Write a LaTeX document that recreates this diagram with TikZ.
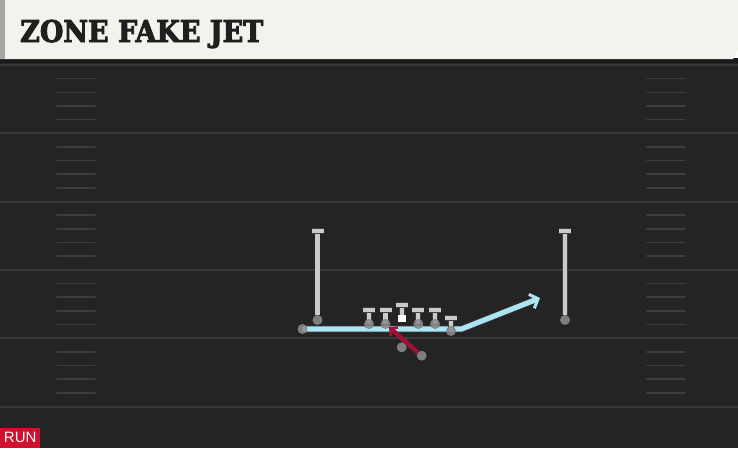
\documentclass[tikz,border=0pt]{standalone}
\usepackage{fontspec}
\newfontfamily\titlefont{DejaVu Serif Condensed}[FakeBold = 3]
\newfontfamily\tagfont{Liberation Sans}
\usetikzlibrary{
    arrows.meta,
    calc
}
\definecolor{field}{HTML}{242424}
\definecolor{yardline}{HTML}{393939}
\definecolor{hashmark}{HTML}{3D3D3D}
\definecolor{banner}{HTML}{F4F2EC}
\definecolor{route}{HTML}{ABE4F2}
\definecolor{runred}{HTML}{9E1232}
\definecolor{tagred}{HTML}{D0102F}
\definecolor{player}{HTML}{8E8E8E}
\definecolor{blocker}{HTML}{CACACA}
\tikzset {
    yard line/.style = {draw = yardline, line width = 2pt},
    hash/.style = {draw = hashmark, line width = 1.6pt, line cap = round},
    man/.style = {circle, fill = player, fill opacity = .85, draw = black!50, line width = .8pt, inner sep = 0pt, minimum size = 9pt},
    center man/.style = {rectangle, fill = white, inner sep = 0pt, minimum width = 8pt, minimum height = 7pt},
    block/.style = {draw = blocker, line width = 4.2pt, preaction = {draw = black!75, line width = 5.8pt}},
    route/.style = {
        draw = route, line width = 5.2pt, line join = round,
        preaction = {draw = black!80, line width = 7pt},
        -{Straight Barb[length = 7pt, width = 15pt, line width = 3pt]}
    },
    run/.style = {
        draw = runred, line width = 4.4pt,
        -{Straight Barb[length = 5pt, width = 11pt, line width = 2.5pt]}
    },
    %
    block tee/.pic = {
        \draw [block, line width = 4.6pt, preaction = {draw = black!75, line width = 6.2pt}] (-6pt, 0) -- (6pt, 0);
    }
}

\begin{document}
\begin{tikzpicture}[x = 1pt, y = -1pt]
    \useasboundingbox (0, 0) rectangle (738, 448);
    % field
    \fill [field] (0, 59) rectangle (738, 448);
    \foreach \y in {65, 133.3, 201.6, 269.9, 338.2, 406.5}
        \draw [yard line] (0, \y) -- (738, \y);
    \foreach \y in {65, 133.3, 201.6, 269.9, 338.2} {
        \foreach \k in {1, 2, 3, 4} {
            \draw [hash] (57, \y + 13.66 * \k) -- (95, \y + 13.66 * \k);
            \draw [hash] (647, \y + 13.66 * \k) -- (685, \y + 13.66 * \k);
        }
    }
    % header
    \fill [black!90] (0, 58) rectangle (738, 63);
    \fill [banner] (0, 0) -- (738, 0) -- (738, 50) -- (733, 59) -- (0, 59) -- cycle;
    \fill [black!35] (0, 0) rectangle (5, 59);
    \node (title) [anchor = base west, inner sep = 0pt, text = black!88]
        at (20, 42) {\titlefont\bfseries\fontsize{30}{30}\selectfont ZONE FAKE JET};
    % tag
    \node (tag) [fill = tagred, text = white, anchor = south west, minimum width = 40pt,
        minimum height = 20pt, inner sep = 0pt] at (0, 448)
        {\tagfont\fontsize{15}{15}\selectfont RUN};
    % players
    \coordinate (jet) at (302.5, 329);
    \coordinate (bend) at (461.5, 329);
    \coordinate (jetend) at (540, 298);
    \draw [route] (jet) -- (bend) -- (jetend);
    \coordinate (xtop) at (317.5, 231);
    \coordinate (ztop) at (565, 231);
    \node (x) [man] at (317.5, 320) {};
    \node (z) [man] at (565, 320) {};
    \draw [block] (x) -- (xtop);
    \draw [block] (z) -- (ztop);
    \pic at (xtop) {block tee};
    \pic at (ztop) {block tee};
    \node (c) [center man] at (401.7, 318.3) {};
    \coordinate (ctop) at (401.7, 305);
    \draw [block] (c.north) -- (ctop);
    \pic at (ctop) {block tee};
    \foreach \name/\xx/\yy/\tt in {lt/369/324/310, lg/385.5/324/310, rg/418.3/324/310, rt/435/324/310, te/451/331/318} {
        \coordinate (\name top) at (\xx, \tt);
        \draw [block] (\xx, \yy) -- (\name top);
        \pic at (\name top) {block tee};
        \node (\name) [man] at (\xx, \yy) {};
    }
    \node (jetman) [man] at (jet) {};
    \node (qb) [man] at (401.7, 347.3) {};
    \node (rb) [man] at (421.7, 355.7) {};
    \draw [run] (rb) -- (lg);
\end{tikzpicture}
\end{document}
